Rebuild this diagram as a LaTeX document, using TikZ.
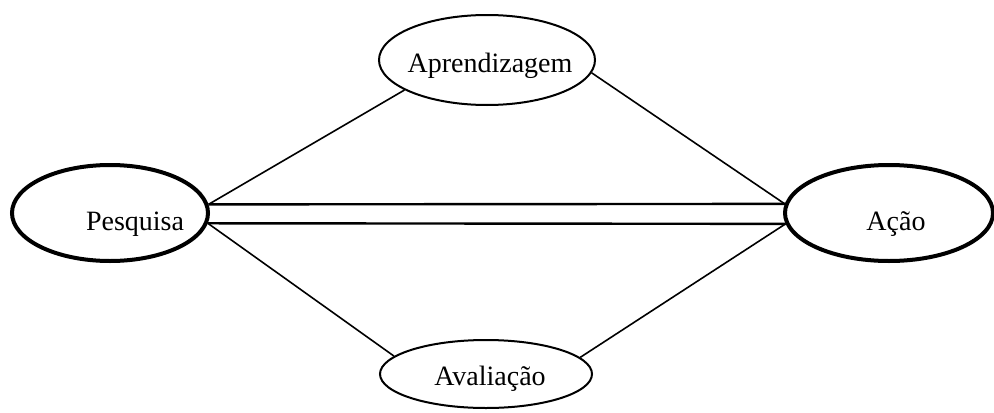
\documentclass[tikz,border=0pt]{standalone}
\usepackage{fontspec}
\setmainfont{Liberation Serif}
\usetikzlibrary{shapes.geometric}
\begin{document}
\begin{tikzpicture}[x=0.5pt,y=-0.5pt,
  bigell/.style={ellipse,draw,line width=2pt,inner sep=0pt},
  smallell/.style={ellipse,draw,line width=1pt,inner sep=0pt},
  lbl/.style={anchor=base,inner sep=0pt,font=\fontsize{14pt}{16pt}\selectfont},
  link/.style={line width=0.8pt},
  rail/.style={line width=1.2pt}]
\useasboundingbox (0,0) rectangle (994,412);
\node[bigell,minimum width=98pt,minimum height=48pt] (pes) at (110,213) {};
\node[bigell,minimum width=104pt,minimum height=48pt] (aca) at (889,213) {};
\node[smallell,minimum width=108pt,minimum height=45pt] (apr) at (487,60) {};
\node[smallell,minimum width=106pt,minimum height=34pt] (ava) at (486,374) {};
\node[lbl] (pesT) at (135,230) {Pesquisa};
\node[lbl] (acaT) at (896,230) {Ação};
\node[lbl] (aprT) at (490,72) {Aprendizagem};
\node[lbl] (avaT) at (490,385) {Avaliação};
\draw[rail] (pes.5) -- (aca.175);
\draw[rail] (pes.-6.5) -- (aca.186.5);
\draw[link] (pes.5) -- (apr.200.6);
\draw[link] (apr.-7) -- (aca.175);
\draw[link] (pes.-6.5) -- (ava.169.8);
\draw[link] (ava.10) -- (aca.186.5);
\end{tikzpicture}
\end{document}
